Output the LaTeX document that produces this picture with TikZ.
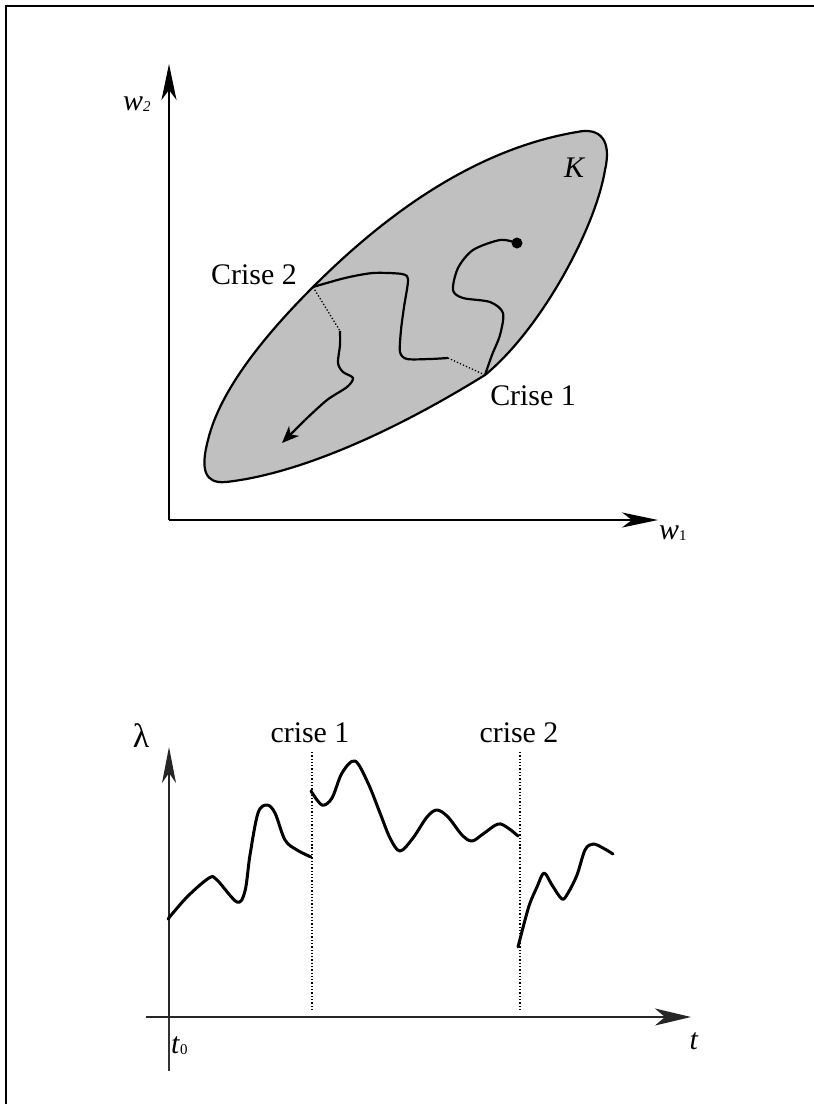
\documentclass[tikz,border=0pt]{standalone}
\usepackage{fontspec}
\setmainfont{Liberation Serif}
\usetikzlibrary{arrows.meta}
\definecolor{blobgray}{RGB}{192,192,192}
\begin{document}
\begin{tikzpicture}[x=1bp,y=-1bp,
  axis/.style={line width=2.6bp,-{Stealth[length=36bp,width=15bp,inset=10bp]}},
  thinaxis/.style={line width=1.4bp,draw=black!85,-{Stealth[length=36bp,width=14bp,inset=10bp]}},
  curve/.style={line width=3bp,line cap=round,line join=round},
  trail/.style={line width=2.2bp,line join=round},
  dots/.style={line width=1.3bp,dotted},
  lbl/.style={inner sep=0pt,font=\fontsize{30}{34}\selectfont},
  mlbl/.style={inner sep=0pt,font=\fontsize{30}{34}\selectfont\itshape}]
\useasboundingbox (0,0) rectangle (814,1104);
% frame
\draw[line width=2.4bp] (6,1104) -- (6,6) -- (820,6);

% ---------- upper diagram ----------
\coordinate (o1) at (169,520);
\coordinate (y1) at (169,64);
\coordinate (x1) at (658,520);
% trajectory anchor points
\coordinate (start) at (517,243);
\coordinate (c1) at (485,375);
\coordinate (c1b) at (448,358);
\coordinate (c2) at (313,287);
\coordinate (c2b) at (340,331);
\coordinate (endp) at (282,443);
% region K
\draw[line width=2.2bp,fill=blobgray,line join=round]
  (c2) .. controls (380,220) and (470,150) .. (577,132)
       .. controls (600,127) and (612,140) .. (605,170)
       .. controls (595,230) and (540,330) .. (c1)
       .. controls (380,440) and (290,475) .. (226,482)
       .. controls (205,484) and (200,470) .. (208,440)
       .. controls (220,390) and (265,335) .. (c2) -- cycle;
\node[mlbl] (K) at (574,168) {K};
% trajectory
\fill (start) circle (5.5bp);
\draw[trail] plot[smooth,tension=0.5] coordinates {
  (start) (500,240) (473,250) (458,268) (453,290) (463,298) (490,302) (503,313)
  (500,335) (492,355) (c1)};
\draw[dots] (c1) -- (c1b);
\draw[trail] plot[smooth,tension=0.45] coordinates {
  (c1b) (430,359) (407,359) (400,352) (401,330) (404,307) (408,280) (402,274)
  (373,273) (345,278) (c2)};
\draw[dots] (c2) -- (c2b);
\draw[trail] plot[smooth,tension=0.5] coordinates {
  (c2b) (340,345) (338,363) (343,372) (353,378) (347,387) (327,400) (305,420)};
\draw[trail,-{Stealth[length=17bp,width=14bp,inset=5bp]}] (305,420) -- (endp);
% axes
\draw[axis] (o1) -- (y1);
\draw[axis] (o1) -- (x1);
\node[lbl,anchor=south west] (w2) at (123,112) {\textit{w}\raisebox{-1bp}{\fontsize{15}{16}\selectfont\itshape 2}};
\node[lbl,anchor=south west] (w1) at (659,541) {\textit{w}\raisebox{-1bp}{\fontsize{15}{16}\selectfont 1}};
\node[lbl] (cr2) at (254,275) {Crise 2};
\node[lbl] (cr1) at (533,396) {Crise 1};

% ---------- lower diagram ----------
\coordinate (o2) at (169,1017);
\coordinate (yb) at (169,1071);
\coordinate (y2) at (169,747);
\coordinate (xa) at (146,1017);
\coordinate (x2) at (691,1017);
\draw[line width=1.4bp,draw=black!80] (o2) -- (yb);
\draw[thinaxis] (o2) -- (y2);
\draw[line width=2.2bp,draw=black!85,-{Stealth[length=36bp,width=17bp,inset=10bp]}] (xa) -- (x2);
\node[inner sep=0pt,font=\fontsize{34}{38}\selectfont] (lam) at (141,736) {λ};
\node[lbl] (t) at (694,1041) {\textit{t}};
\node[lbl,anchor=base west] (t0) at (171,1053) {\textit{t}\raisebox{-1bp}{\fontsize{15}{16}\selectfont 0}};
\node[lbl] (k1) at (310,733) {crise 1};
\node[lbl] (k2) at (519,733) {crise 2};
\coordinate (d1t) at (312,752);
\coordinate (d1b) at (312,1012);
\coordinate (d2t) at (520,752);
\coordinate (d2b) at (520,1012);
\draw[dots] (d1t) -- (d1b);
\draw[dots] (d2t) -- (d2b);
% lambda curve
\draw[curve] plot[smooth,tension=0.55] coordinates {
  (168,919) (187,897) (209,878) (217,880) (237,902) (245,891) (250,855)
  (258,813) (267,805) (275,813) (285,840) (297,850) (311,857)};
\draw[curve] plot[smooth,tension=0.55] coordinates {
  (311,791) (322,805) (332,798) (342,773) (355,761) (368,783) (380,813)
  (390,838) (400,851) (413,838) (427,817) (437,810) (448,817) (462,835)
  (472,841) (483,834) (498,824) (508,828) (518,836)};
\draw[curve] plot[smooth,tension=0.55] coordinates {
  (518,947) (525,920) (530,903) (537,887) (544,873) (552,885) (562,899)
  (568,893) (577,875) (585,850) (593,844) (603,848) (613,854)};
\end{tikzpicture}
\end{document}
